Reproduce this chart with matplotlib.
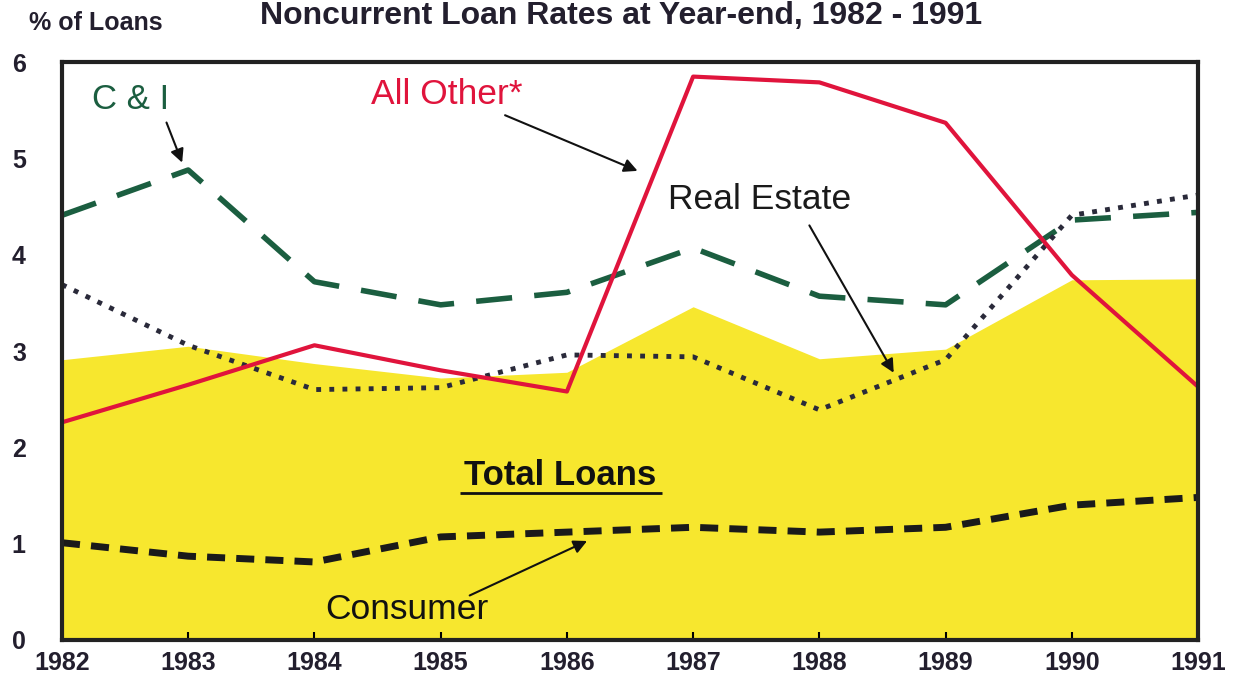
import matplotlib.pyplot as plt

# Noncurrent loan rates, % of loans
years = [1982, 1983, 1984, 1985, 1986, 1987, 1988, 1989, 1990, 1991]
total_loans = [2.91, 3.05, 2.87, 2.72, 2.78, 3.46, 2.92, 3.02, 3.74, 3.75]
all_other = [2.26, 2.65, 3.06, 2.80, 2.58, 5.85, 5.79, 5.37, 3.79, 2.63]
c_and_i = [4.41, 4.88, 3.72, 3.48, 3.61, 4.07, 3.57, 3.48, 4.36, 4.44]
real_estate = [3.69, 3.06, 2.60, 2.62, 2.96, 2.94, 2.39, 2.91, 4.41, 4.62]
consumer = [1.01, 0.87, 0.81, 1.07, 1.12, 1.17, 1.12, 1.17, 1.40, 1.48]

plt.rcParams['font.family'] = ['Liberation Sans', 'DejaVu Sans']

fig = plt.figure(figsize=(12.42, 6.83), dpi=100)
ax = fig.add_axes([0.0499, 0.063, 0.9147, 0.846])

ax.fill_between(years, total_loans, 0, color='#F7E72E', lw=0, zorder=1)
ax.plot(years, all_other, color='#E0143C', lw=3, zorder=4)
ax.plot(years, c_and_i, color='#1B5E40', lw=4, dashes=(6.5, 4), zorder=3)
ax.plot(years, real_estate, color='#2A2A3A', lw=3.5, dashes=(1.0, 1.7), zorder=3)
ax.plot(years, consumer, color='#1A1A1A', lw=5, dashes=(2.6, 1.6), zorder=3)

ax.set_xlim(1982, 1991)
ax.set_ylim(0, 6)
ax.set_xticks(years)
ax.set_yticks(range(7))
ax.tick_params(axis='x', direction='in', length=6, width=1.5, pad=8,
               labelsize=18)
ax.tick_params(axis='y', length=0, pad=26, labelsize=18)
for lab in ax.get_xticklabels() + ax.get_yticklabels():
    lab.set_fontweight('bold')
    lab.set_color('#231F2E')
for sp in ax.spines.values():
    sp.set_linewidth(3)
    sp.set_color('#222222')
    sp.set_zorder(6)

# labels and arrows
arrow = dict(arrowstyle='-|>', color='#111111', lw=1.5, mutation_scale=20)
ax.text(1982.54, 5.61, 'C & I', color='#1B5E40', fontsize=25, ha='center',
        va='center')
ax.annotate('', xy=(1982.96, 4.93), xytext=(1982.82, 5.40), arrowprops=arrow)
ax.text(1985.05, 5.66, 'All Other*', color='#E0143C', fontsize=25.5,
        ha='center', va='center')
ax.annotate('', xy=(1986.58, 4.86), xytext=(1985.49, 5.46), arrowprops=arrow)
ax.text(1987.53, 4.57, 'Real Estate', color='#1A1A1A', fontsize=25.5,
        ha='center', va='center')
ax.annotate('', xy=(1988.60, 2.75), xytext=(1987.91, 4.33), arrowprops=arrow)
ax.text(1985.95, 1.71, 'Total Loans', color='#111111', fontsize=25,
        fontweight='bold', ha='center', va='center')
ax.plot([1985.15, 1986.75], [1.53, 1.53], color='#111111', lw=2,
        solid_capstyle='butt', zorder=5)
ax.text(1984.73, 0.32, 'Consumer', color='#111111', fontsize=25.5,
        ha='center', va='center')
ax.annotate('', xy=(1986.18, 1.04), xytext=(1985.21, 0.45), arrowprops=arrow)

fig.text(0.077, 1 - 30 / 683, '% of Loans', fontsize=18, fontweight='bold',
         ha='center', va='baseline', color='#231F2E')
fig.text(0.5, 1 - 24 / 683, 'Noncurrent Loan Rates at Year-end, 1982 - 1991',
         fontsize=23, fontweight='bold', ha='center', va='baseline',
         color='#231F2E')

fig.savefig('out.png', dpi=100)
